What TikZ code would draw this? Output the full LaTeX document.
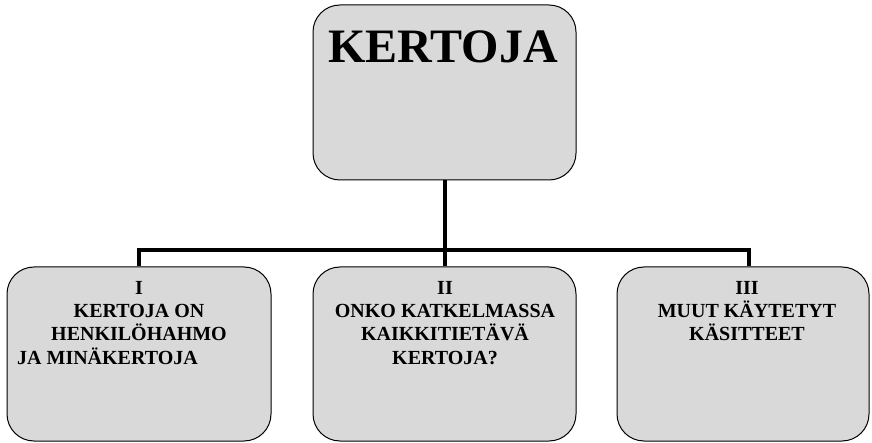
\documentclass[tikz,border=0pt]{standalone}
\usepackage{fontspec}
\setmainfont{Liberation Serif}
\definecolor{boxgray}{RGB}{217,217,217}
\begin{document}
\begin{tikzpicture}[x=1pt,y=-1pt,
  box/.style={draw=black, line width=1pt, fill=boxgray, rounded corners=27pt,
              inner sep=0pt, minimum height=174pt},
  link/.style={line width=4pt, line join=miter},
  label/.style={font=\fontsize{20}{23.3}\selectfont\bfseries, align=center,
                inner sep=0pt, anchor=base},
  title/.style={font=\fontsize{48}{52}\selectfont\bfseries, inner sep=0pt, anchor=base}]
\useasboundingbox (0,0) rectangle (872,443);

% boxes
\node[box, minimum width=263pt, minimum height=175pt] (top) at (444.5,92.5) {};
\node[box, minimum width=264pt] (one)   at (139,354) {};
\node[box, minimum width=263pt] (two)   at (444.5,354) {};
\node[box, minimum width=252pt] (three) at (743,354) {};

% connectors
\coordinate (bus) at (0,250);
\draw[link] (top.south) -- (two.north);
\draw[link] (one.north) -- (one.north |- bus)
  -- ([xshift=6pt]three.north |- bus) -- ([xshift=6pt]three.north);

% texts (base anchor sits on the last line)
\node[title] (ttl) at (443,63) {KERTOJA};
\node[label] (t1) at (139,341) {I\\KERTOJA ON\\HENKILÖHAHMO};
\node[label, anchor=base west] (t1b) at (17,364) {JA MINÄKERTOJA};
\node[label] (t2) at (445,364) {II\\ONKO KATKELMASSA\\KAIKKITIETÄVÄ\\KERTOJA?};
\node[label] (t3) at (747,341) {III\\MUUT KÄYTETYT\\KÄSITTEET};
\end{tikzpicture}
\end{document}
